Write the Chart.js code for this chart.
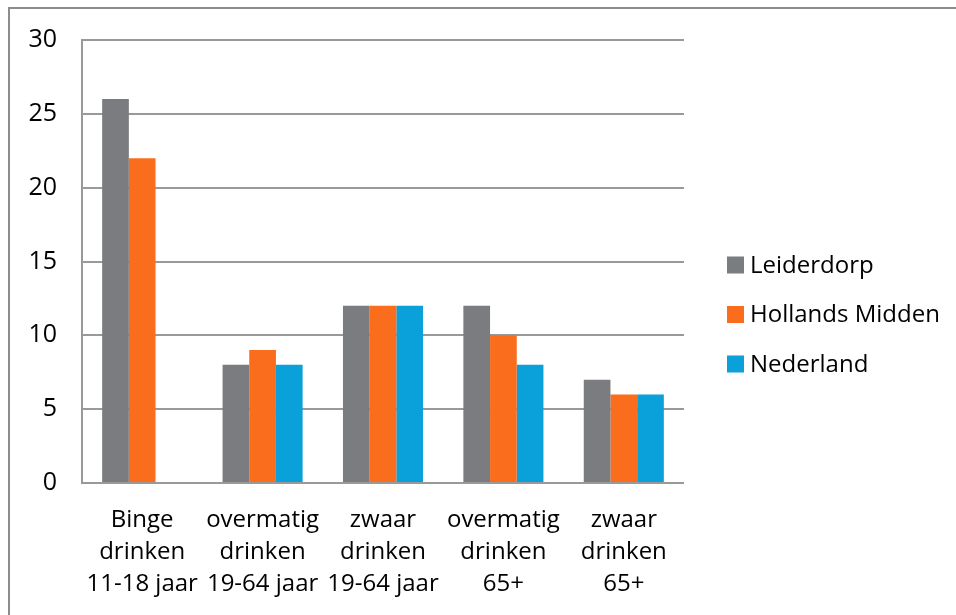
<!DOCTYPE html>
<html>
<head>
<meta charset="utf-8">
<script src="https://cdn.jsdelivr.net/npm/chart.js@4/dist/chart.umd.min.js"></script>
<style>
  html, body { margin: 0; padding: 0; background: #fff; overflow: hidden; }
  #frame { position: absolute; left: 8px; top: 7px; width: 1000px; height: 700px;
           border-left: 2px solid #8c8c8c; border-top: 2px solid #8c8c8c; }
  #chart { position: absolute; left: 0; top: 0; }
</style>
</head>
<body>
<div id="frame"></div>
<canvas id="chart" width="956" height="615"></canvas>
<script>
const categories = [
    ['Binge', 'drinken', '11-18 jaar'],
    ['overmatig', 'drinken', '19-64 jaar'],
    ['zwaar', 'drinken', '19-64 jaar'],
    ['overmatig', 'drinken', '65+'],
    ['zwaar', 'drinken', '65+']
];
const seriesNames = ['Leiderdorp', 'Hollands Midden', 'Nederland'];
const leiderdorp = [26, 8, 12, 12, 7];
const hollandsMidden = [22, 9, 12, 10, 6];
const nederland = [null, 8, 12, 8, 6];
const yTicks = [0, 5, 10, 15, 20, 25, 30];

const colors = ['#7b7c80', '#f96d1d', '#0aa1da'];
const font = { family: '"Open Sans", sans-serif', size: 24 };

// legend on the right, drawn next to the plot
const sideLegend = {
    id: 'sideLegend',
    afterDraw(chart) {
        const ctx = chart.ctx;
        ctx.save();
        ctx.font = '24px "Open Sans", sans-serif';
        ctx.textBaseline = 'middle';
        ctx.textAlign = 'left';
        chart.data.datasets.forEach((ds, i) => {
            const y = 265 + i * 49.5;
            ctx.fillStyle = ds.backgroundColor;
            ctx.fillRect(727, y - 8.5, 17, 17);
            ctx.fillStyle = '#000';
            ctx.fillText(ds.label, 750, y + 1);
        });
        ctx.restore();
    }
};

new Chart(document.getElementById('chart').getContext('2d'), {
    type: 'bar',
    data: {
        labels: categories,
        datasets: [
            { label: seriesNames[0], data: leiderdorp, backgroundColor: colors[0] },
            { label: seriesNames[1], data: hollandsMidden, backgroundColor: colors[1] },
            { label: seriesNames[2], data: nederland, backgroundColor: colors[2] }
        ]
    },
    options: {
        responsive: false,
        animation: false,
        devicePixelRatio: 1,
        layout: { padding: { left: 0, top: 39, right: 272, bottom: 0 } },
        datasets: { bar: { barPercentage: 1, categoryPercentage: 0.665 } },
        plugins: {
            legend: { display: false },
            tooltip: { enabled: false }
        },
        scales: {
            x: {
                grid: { display: false, drawTicks: false },
                border: { display: false },
                ticks: {
                    color: '#000', font: { ...font, lineHeight: '32px' },
                    padding: 21, autoSkip: false, maxRotation: 0, minRotation: 0
                },
                afterFit(scale) { scale.height = 132; }
            },
            y: {
                min: 0, max: 30,
                grid: { color: '#999999', lineWidth: 2, drawTicks: false },
                border: { color: '#999999', width: 2 },
                afterBuildTicks(scale) { scale.ticks = yTicks.map(v => ({ value: v })); },
                ticks: { color: '#000', font: { ...font, size: 25 }, padding: 25 },
                afterFit(scale) { scale.width = 82; }
            }
        }
    },
    plugins: [sideLegend]
});
</script>
</body>
</html>
